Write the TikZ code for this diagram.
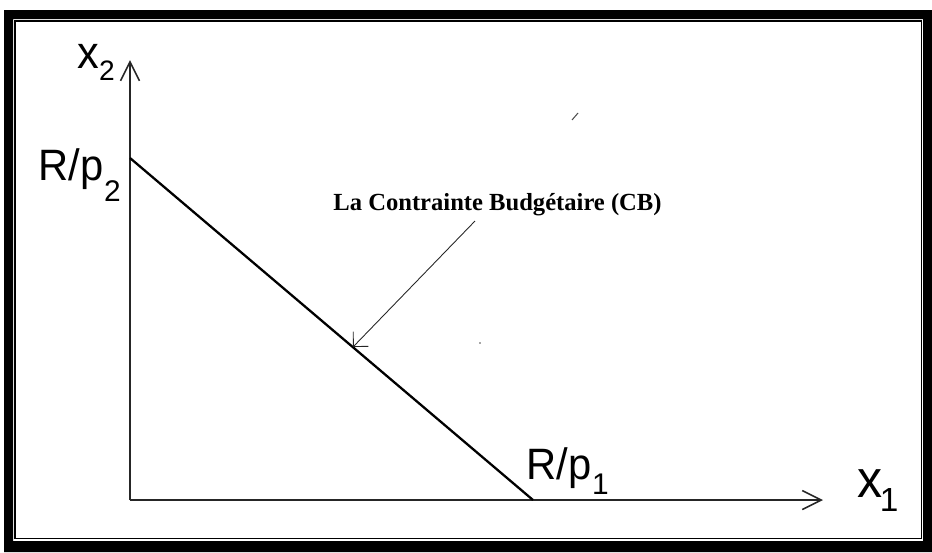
\documentclass[tikz,border=0pt]{standalone}
\usepackage{fontspec}
\usepackage{graphicx}
\setmainfont{Liberation Sans}
\newfontfamily\cbfont{Liberation Serif}
\usetikzlibrary{arrows.meta, calc}
\tikzset{
    axis/.style={line width=1.1pt, black!85, -{Straight Barb[length=3.8mm, width=3.8mm, line width=0.9pt]}},
    budget/.style={line width=1.3pt, black},
    callout/.style={line width=0.5pt, black!85, -{Straight Barb[length=2.1mm, width=4.2mm, line width=0.5pt]}},
    lab/.style={inner sep=0pt, anchor=base west}
}
% étiquette avec indice : texte, indice, taille, taille indice, décalage, espace
\newcommand{\axlabel}[6]{\scalebox{0.95}[1]{\fontsize{#3}{#3}\selectfont #1}\hspace{#6}\raisebox{-#5}{\fontsize{#4}{#4}\selectfont #2}}

\begin{document}
\begin{tikzpicture}[x=0.02cm, y=-0.02cm,
		% cadre de la figure
		frame/.style={fill=black, even odd rule},
		inner-frame/.style={draw=black, line width=0.9pt}
		]
		\useasboundingbox (0,0) rectangle (932,552);
		
		% Cadre double
		\path [frame] (4,10) rectangle (932,552) (13,19) rectangle (923,541);
		\draw [inner-frame] (15,20.8) rectangle (921.3,538.5);
		
		% Points des axes
		\coordinate (O) at (130,500);
		\coordinate (ytop) at (130,60);
		\coordinate (xend) at (823,500);
		\coordinate (A) at (130,158);
		\coordinate (B) at (533,500);
		
		% Axes
		\draw [axis] (O) -- (ytop);
		\draw [axis] (O) -- (xend);
		
		% Droite de budget
		\draw [budget] (A) -- (B);
		
		% Étiquettes
		\node (x2) [lab] at (77,68) {\axlabel{x}{2}{26}{16}{7pt}{0pt}};
		\node (x1) [lab] at (857,497) {\axlabel{x}{1}{30}{19}{8.5pt}{-1.5pt}};
		\node (Rp2) [lab] at (38,180) {\axlabel{R/p}{2}{25}{17}{12pt}{0.5pt}};
		\node (Rp1) [lab] at (526,479) {\axlabel{R/p}{1}{25}{17}{9pt}{0.5pt}};
		
		% Légende de la contrainte
		\node (cb) [inner sep=0pt, anchor=base, font=\cbfont\bfseries\fontsize{14}{14}\selectfont] at (497.5,210) {La Contrainte Budgétaire (CB)};
		\coordinate (cbstart) at (475,221);
		\coordinate (tip) at (353,347);
		\draw [callout] (cbstart) -- (tip);
		
		% petites marques
		\draw [black!70, line width=0.6pt] (572,120) -- (578,113);
		\fill [black!70] (480,343) circle (0.9);
		
	\end{tikzpicture}
\end{document}
